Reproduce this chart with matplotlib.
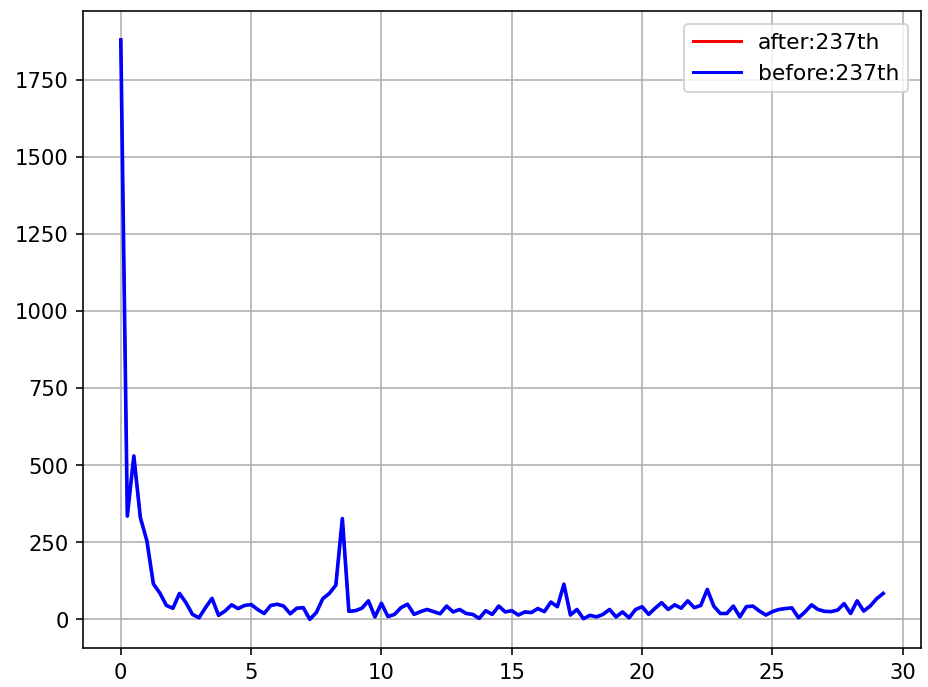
import numpy as np
import matplotlib
matplotlib.use("Agg")
import matplotlib.pyplot as plt

# spectrum values, sampled every 0.25 on the x axis
step = 0.25
values = [
    1880, 335, 530, 330, 255, 115, 85, 45, 36, 84,
    54, 16, 5, 38, 68, 13, 27, 47, 35, 45,
    48, 32, 19, 45, 49, 43, 18, 36, 38, 0,
    22, 67, 84, 111, 327, 26, 28, 36, 60, 8,
    52, 9, 16, 38, 49, 16, 25, 32, 25, 18,
    43, 24, 32, 19, 16, 3, 28, 16, 43, 24,
    28, 14, 24, 22, 35, 25, 56, 41, 114, 14,
    32, 2, 13, 8, 16, 32, 8, 24, 5, 32,
    41, 16, 36, 54, 32, 47, 36, 60, 38, 45,
    97, 43, 19, 19, 43, 8, 41, 43, 27, 14,
    25, 32, 35, 37, 5, 24, 47, 32, 26, 25,
    30, 51, 19, 60, 27, 43, 67, 84,
]
freq = np.arange(len(values)) * step

fig = plt.figure(figsize=(6.4, 4.74), dpi=145)
ax = fig.add_axes([0.0891, 0.0563, 0.9037, 0.9273])

# the "after" series lies under the "before" one
ax.plot(freq, values, color="red", lw=1.3, label="after:237th")
ax.plot(freq, values, color="blue", lw=1.8, label="before:237th")
ax.grid(True)
ax.tick_params(labelsize=10.5)
leg = ax.legend(loc="upper right", fontsize=10.8, handlelength=2.2,
                borderaxespad=0.6)
for line in leg.get_lines():
    line.set_linewidth(1.5)

fig.savefig("out.png", dpi=145)
